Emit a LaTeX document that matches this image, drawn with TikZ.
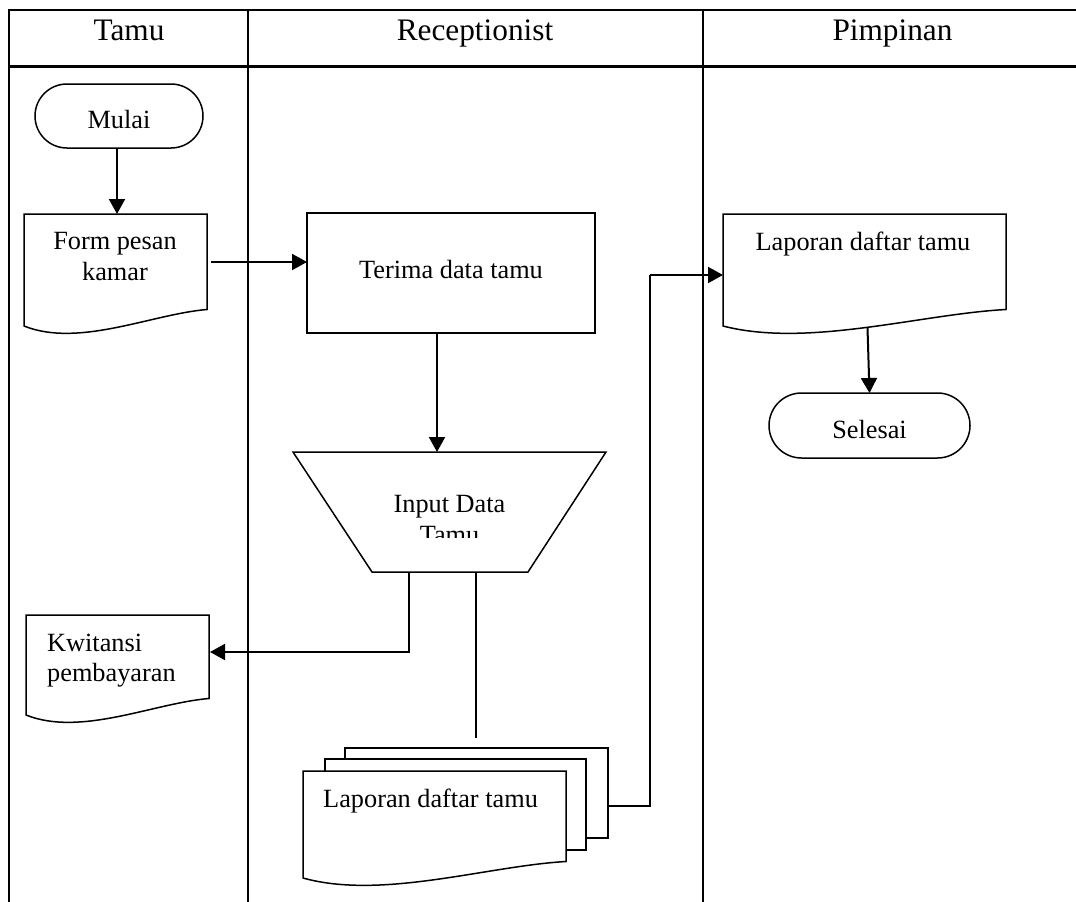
\documentclass[tikz,border=0pt]{standalone}
\usepackage{fontspec}
\setmainfont{Liberation Serif}
\usetikzlibrary{calc,arrows.meta}
\tikzset{
  tableline/.style={line width=2.3pt, line cap=rect},
  shapeline/.style={line width=1.5pt, draw=black},
  frame/.style={inner sep=0pt, outer sep=0pt, draw=none},
  arrowline/.style={line width=2pt, -{Triangle[length=15pt,width=16pt]}},
  plainline/.style={line width=1.5pt},
  thinline/.style={line width=1.1pt},
  headtxt/.style={inner sep=0pt, anchor=base, font=\fontsize{31.3}{36}\selectfont},
  bodytxt/.style={inner sep=0pt, anchor=base, font=\fontsize{26.3}{30}\selectfont},
  stadium/.style={shapeline, inner sep=0pt, outer sep=0pt, rounded corners=32pt},
}
\newcommand\drawdoc[1]{\draw[shapeline, fill=white] (#1.north west) -- (#1.north east) -- ($(#1.south east)+(0,-16.5)$) .. controls ($(#1.south west)!0.7!(#1.south east)+(0,-12)$) and ($(#1.south west)!0.3!(#1.south east)+(0,22)$) .. (#1.south west) -- cycle;}
\begin{document}
\begin{tikzpicture}[x=1pt,y=-1pt]
\useasboundingbox (0,0) rectangle (1076,902);
% swimlane table
\draw[tableline] (9,915) -- (9,10) -- (1090,10);
\draw[tableline] (9,66.5) -- (1090,66.5);
\draw[tableline] (248,10) -- (248,915);
\draw[tableline] (703,10) -- (703,915);
\node[headtxt] (h1) at (129,40) {Tamu};
\node[headtxt] (h2) at (475,40) {Receptionist};
\node[headtxt] (h3) at (892.5,40) {Pimpinan};

% Mulai
\node[stadium, minimum width=168pt, minimum height=64pt] (mulai) at (119,116) {};
\node[bodytxt] (tmulai) at (119,128) {Mulai};

% Form pesan kamar
\node[frame, minimum width=183pt, minimum height=112pt] (form) at (115.5,270) {};
\drawdoc{form}
\node[bodytxt] (tform1) at (115,249) {Form pesan};
\node[bodytxt] (tform2) at (115,280) {kamar};

% Terima data tamu
\node[shapeline, inner sep=0pt, outer sep=0pt, minimum width=288pt, minimum height=120pt] (terima) at (451,273) {};
\node[bodytxt] (tterima) at (451,278) {Terima data tamu};

% Input Data Tamu (manual operation)
\node[frame, minimum width=313pt, minimum height=120pt] (trap) at (449.5,512) {};
\draw[shapeline] (trap.north west) -- (trap.north east) -- ($(trap.south east)+(-78,0)$) -- ($(trap.south west)+(79,0)$) -- cycle;
\node[bodytxt] (tinput) at (449.5,512) {Input Data};
\begin{scope}
\clip (293,452) rectangle (606,537);
\node[bodytxt] (tinput2) at (449.5,543) {Tamu};
\end{scope}

% Kwitansi pembayaran
\node[frame, minimum width=183pt, minimum height=100pt] (kw) at (117.5,665) {};
\drawdoc{kw}
\node[bodytxt, anchor=base west] (tkw1) at (47,651) {Kwitansi};
\node[bodytxt, anchor=base west] (tkw2) at (47,681) {pembayaran};

% Laporan daftar tamu (multiple documents)
\node[shapeline, fill=white, inner sep=0pt, outer sep=0pt, minimum width=263pt, minimum height=90pt] (back) at (476.5,793) {};
\node[shapeline, fill=white, inner sep=0pt, outer sep=0pt, minimum width=261pt, minimum height=91pt] (mid) at (455.5,804.5) {};
\node[frame, minimum width=263pt, minimum height=107pt] (front) at (434.5,824.5) {};
\drawdoc{front}
\node[bodytxt, anchor=base west] (tfront) at (323,807) {Laporan daftar tamu};

% Laporan daftar tamu (Pimpinan)
\node[frame, minimum width=283pt, minimum height=112pt] (lap) at (864.5,270) {};
\drawdoc{lap}
\node[bodytxt] (tlap) at (863,250) {Laporan daftar tamu};

% Selesai
\node[stadium, rounded corners=32.5pt, minimum width=201pt, minimum height=65pt] (selesai) at (869.5,425.5) {};
\node[bodytxt] (tselesai) at (869.5,438) {Selesai};

% connectors
\draw[arrowline] ($(mulai.south)+(-2,0)$) -- ($(form.north)+(1.5,0)$);
\coordinate (a1) at ($(form.east)+(4,-8)$);
\draw[arrowline] (a1) -- (a1 -| terima.west);
\coordinate (t1) at ($(terima.south)+(-14,0)$);
\draw[arrowline] (t1) -- (t1 |- trap.north);
\coordinate (b1) at ($(trap.south west)+(116,0)$);
\draw[arrowline] (b1) |- ($(kw.east)+(1,-13)$);
\coordinate (b2) at ($(trap.south west)+(183,0)$);
\coordinate (lineend) at ($(back.north)+(0,-10)$);
\draw[plainline] (b2) -- (b2 |- lineend);
\coordinate (c0) at ($(back.east)+(0,13)$);
\coordinate (jog) at ($(lap.west)+(-73,5)$);
\draw[thinline] (c0) -| (jog);
\draw[arrowline] (jog) -- ($(lap.west)+(0,5)$);
\draw[arrowline] ($(lap.south)+(3,2)$) -- (selesai.north);
\end{tikzpicture}
\end{document}
